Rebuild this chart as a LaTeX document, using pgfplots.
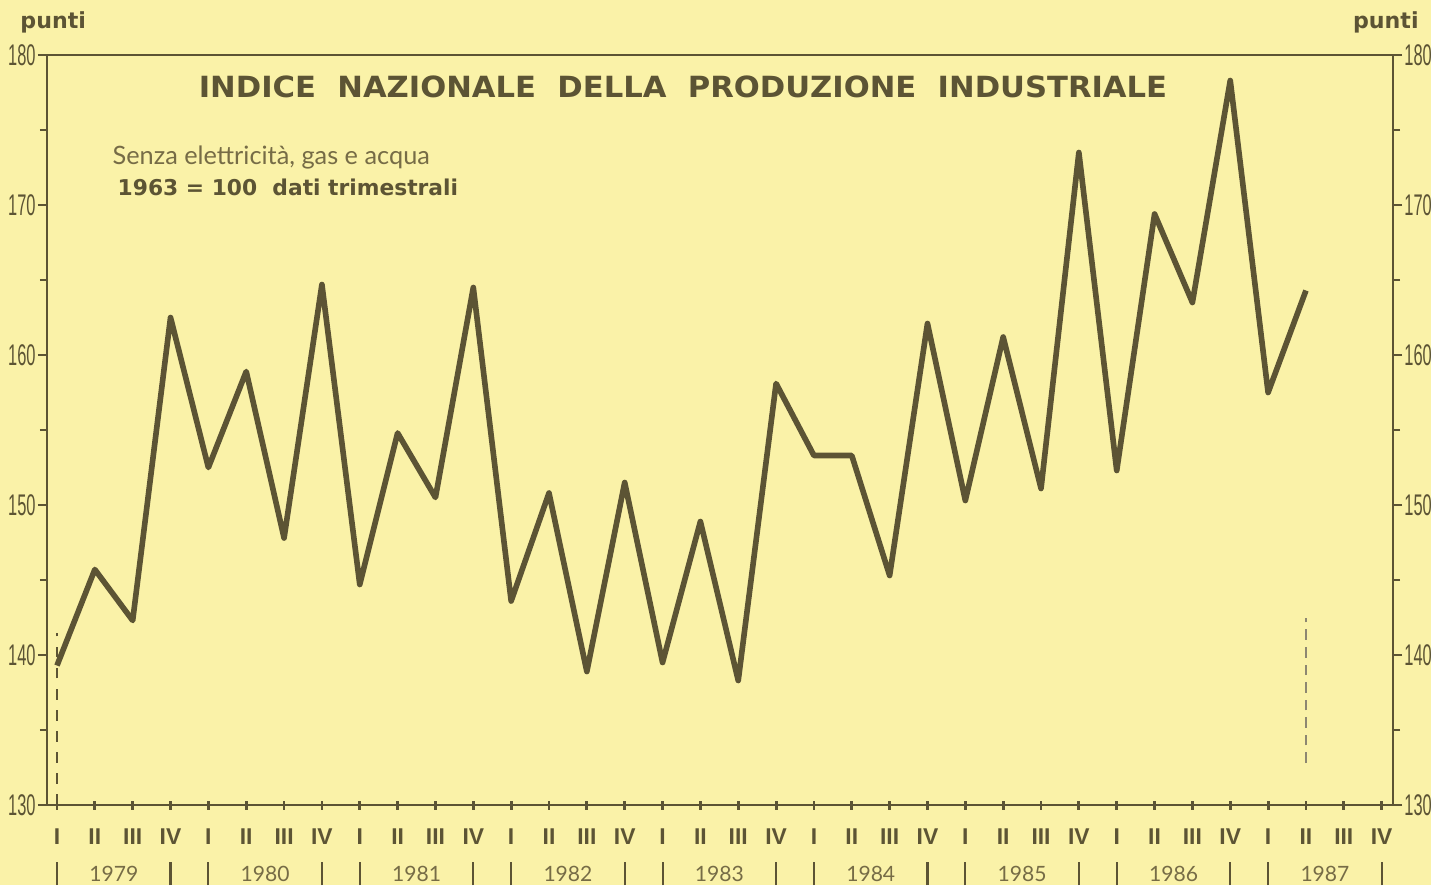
\documentclass[border=0pt]{standalone}
\usepackage{pgfplots}
\pgfplotsset{compat=1.18}
\usepackage{fontspec}
\setmainfont{Liberation Sans}
\newfontfamily\widefont{DejaVu Sans}
\newfontfamily\lightfont{Lato}
\definecolor{paper}{RGB}{250,242,168}
\definecolor{ink}{RGB}{92,84,52}
\definecolor{softink}{RGB}{118,108,70}

% indice trimestrale, 1979 I = 0
\pgfplotstableread{
q val
0 139.3
1 145.7
2 142.3
3 162.5
4 152.5
5 158.9
6 147.8
7 164.7
8 144.7
9 154.8
10 150.5
11 164.5
12 143.6
13 150.8
14 138.9
15 151.5
16 139.5
17 148.9
18 138.3
19 158.1
20 153.3
21 153.3
22 145.3
23 162.1
24 150.3
25 161.2
26 151.1
27 173.5
28 152.3
29 169.4
30 163.5
31 178.3
32 157.5
33 164.3
}\indice

\begin{document}
\begin{tikzpicture}
\fill[paper] (0,0) rectangle (14.31,8.85);
\useasboundingbox (0,0) rectangle (14.31,8.85);
\begin{axis}[
  at={(0.47cm,0.80cm)}, anchor=south west,
  scale only axis, width=13.46cm, height=7.5cm,
  xmin=-0.264, xmax=35.30, ymin=130, ymax=180,
  axis line style={ink, line width=0.8pt},
  xtick={0,...,35},
  xticklabels={I,II,III,IV,I,II,III,IV,I,II,III,IV,I,II,III,IV,I,II,III,IV,I,II,III,IV,I,II,III,IV,I,II,III,IV,I,II,III,IV},
  xtick pos=bottom, ytick pos=left,
  ytick={130,140,...,180}, minor ytick={135,145,...,175},
  tick align=outside,
  major tick length=0.09cm, minor tick length=0.07cm,
  tick style={ink, line width=0.8pt},
  x tick style={yshift=0.045cm},
  xticklabel style={font=\bfseries\fontsize{6.5}{6.5}\selectfont, text=ink, yshift=-0.02cm},
  yticklabel={\scalebox{0.55}[1]{\pgfmathprintnumber{\tick}}},
  yticklabel style={font=\fontsize{8.5}{8.5}\selectfont, text=ink, inner sep=0.5pt},
  /pgf/number format/assume math mode=true,
  clip=false,
]
  \addplot[ink, line width=1.6pt, line join=round] table[x=q, y=val] {\indice};
  \addplot[ink, line width=0.4pt, dashed] coordinates {(0,130) (0,141.5)};
  \addplot[ink!70, line width=0.4pt, densely dashed] coordinates {(33,132.8) (33,142.5)};
\end{axis}
\begin{axis}[
  at={(0.47cm,0.80cm)}, anchor=south west,
  scale only axis, width=13.46cm, height=7.5cm,
  xmin=-0.264, xmax=35.30, ymin=130, ymax=180,
  axis x line=none, axis y line*=right,
  axis line style={ink, line width=0.8pt},
  ytick={130,140,...,180}, minor ytick={135,145,...,175},
  tick align=outside,
  major tick length=0.09cm, minor tick length=0.07cm,
  tick style={ink, line width=0.8pt},
  yticklabel={\scalebox{0.55}[1]{\pgfmathprintnumber{\tick}}},
  yticklabel style={font=\fontsize{8.5}{8.5}\selectfont, text=ink, inner sep=0.5pt},
  /pgf/number format/assume math mode=true,
]
  \addplot[draw=none] coordinates {(0,150)};
\end{axis}
% anni e separatori
\foreach \y [count=\i from 0] in {1979,1980,1981,1982,1983,1984,1985,1986,1987} {
  \pgfmathsetmacro\xa{0.57+0.3785*4*\i}
  \pgfmathsetmacro\xb{\xa+0.3785*3}
  \pgfmathsetmacro\xc{\xa+0.3785*1.5}
  \draw[ink, line width=0.6pt] (\xa,0) -- (\xa,0.23);
  \draw[ink, line width=0.6pt] (\xb,0) -- (\xb,0.23);
  \node[text=softink, font=\lightfont\fontsize{6}{6}\selectfont] at (\xc,0.11) {\y};
}
\node[text=ink, font=\widefont\bfseries\fontsize{6.3}{6.3}\selectfont, anchor=west] at (0.08,8.63) {punti};
\node[text=ink, font=\widefont\bfseries\fontsize{6.3}{6.3}\selectfont, anchor=east] at (14.31,8.63) {punti};
\node[text=ink, font=\widefont\bfseries\fontsize{8.3}{8.3}\selectfont] at (6.83,7.98) {\scalebox{1.05}[1]{INDICE\ \ NAZIONALE\ \ DELLA\ \ PRODUZIONE\ \ INDUSTRIALE}};
\node[text=softink, font=\lightfont\fontsize{7.2}{7.2}\selectfont, anchor=west, inner sep=0pt] at (1.12,7.28) {Senza elettricità, gas e acqua};
\node[text=ink, font=\widefont\bfseries\fontsize{6.2}{6.2}\selectfont, anchor=west, inner sep=0pt] at (1.17,6.98) {1963 = 100\ \ dati trimestrali};
\end{tikzpicture}
\end{document}
